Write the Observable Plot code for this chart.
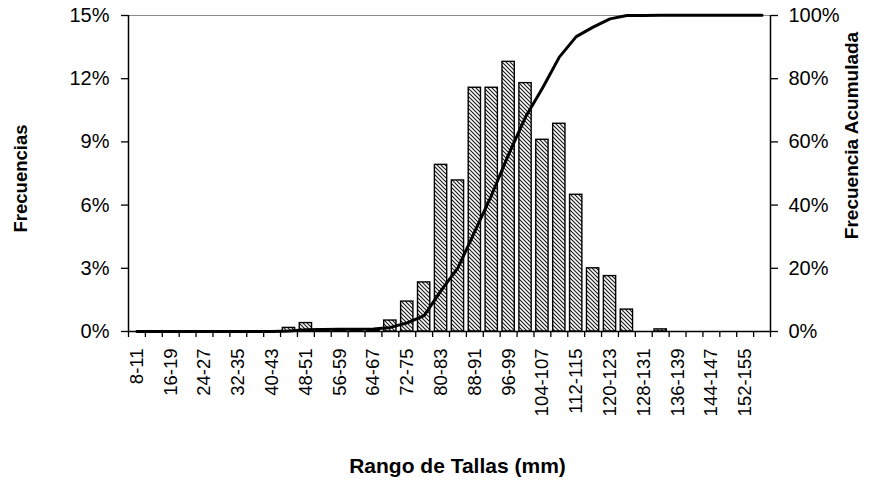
<!DOCTYPE html>
<html>
<head>
<meta charset="utf-8">
<script src="https://cdn.jsdelivr.net/npm/d3@7"></script>
<script src="https://cdn.jsdelivr.net/npm/@observablehq/plot@0.6"></script>
<style>
  body { margin: 0; background: #fff; }
  #chart svg { font-family: "Liberation Sans", Arial, sans-serif; }
</style>
</head>
<body>
<div id="chart"></div>
<script>
// Size classes (mm)
const categories = [
  "8-11","12-15","16-19","20-23","24-27","28-31","32-35","36-39","40-43","44-47",
  "48-51","52-55","56-59","60-63","64-67","68-71","72-75","76-79","80-83","84-87",
  "88-91","92-95","96-99","100-103","104-107","108-111","112-115","116-119","120-123","124-127",
  "128-131","132-135","136-139","140-143","144-147","148-151","152-155","156-159"
];
// Frequency per class (%)
const frequencies = [
  0, 0, 0, 0, 0, 0, 0, 0, 0, 0.17,
  0.4, 0.08, 0.05, 0.03, 0.05, 0.52, 1.42, 2.33, 7.91, 7.17,
  11.57, 11.57, 12.8, 11.79, 9.1, 9.86, 6.49, 3.0, 2.63, 1.04,
  0, 0.1, 0, 0, 0, 0, 0, 0
];
// Axis tick labels
const shownLabels = ["8-11","16-19","24-27","32-35","40-43","48-51","56-59","64-67","72-75",
  "80-83","88-91","96-99","104-107","112-115","120-123","128-131","136-139","144-147","152-155"];
const leftTicks = [0, 3, 6, 9, 12, 15];
const rightTicks = [0, 20, 40, 60, 80, 100];

const cumulative = d3.cumsum(frequencies);
const data = categories.map((c, i) => ({i, cat: c, freq: frequencies[i], cum: cumulative[i]}));
const k = 15 / 100; // right-axis (0–100%) mapped onto left-axis (0–15%)
const boundaries = categories.map((c, i) => i).concat([categories.length]);

const chart = Plot.plot({
  width: 872,
  height: 485,
  marginLeft: 128,
  marginRight: 102,
  marginTop: 15,
  marginBottom: 154,
  x: {domain: [0, categories.length], axis: null},
  y: {domain: [0, 15], axis: null},
  style: {background: "#fff", color: "#000", fontFamily: "'Liberation Sans', Arial, sans-serif"},
  marks: [
    Plot.ruleY([15], {stroke: "#8c8c8c", strokeWidth: 1}),
    Plot.rectY(data, {
      x1: "i", x2: d => d.i + 1, y: "freq",
      insetLeft: 2.3, insetRight: 2.3,
      fill: "url(#hatch)", stroke: "#000", strokeWidth: 1.4
    }),
    Plot.line(data, {x: d => d.i + 0.5, y: d => d.cum * k, stroke: "#000", strokeWidth: 3, strokeLinejoin: "round"}),
    Plot.ruleY([0], {stroke: "#000", strokeWidth: 1.5}),
    Plot.ruleX([0], {stroke: "#000", strokeWidth: 1.5}),
    Plot.ruleX([categories.length], {stroke: "#000", strokeWidth: 1.5}),
    Plot.axisY({anchor: "left", ticks: leftTicks, tickFormat: d => d + "%", tickSize: 7, tickPadding: 12, label: null, fontSize: 20, strokeWidth: 1.3}),
    Plot.axisY({anchor: "right", ticks: rightTicks.map(v => v * k), tickFormat: d => Math.round(d / k) + "%", tickSize: 7, tickPadding: 11, label: null, fontSize: 20, strokeWidth: 1.3}),
    Plot.axisX({anchor: "bottom", ticks: boundaries, tickFormat: () => "", tickSize: 6, label: null, strokeWidth: 1.3}),
    Plot.axisX({anchor: "bottom", ticks: shownLabels.map(l => categories.indexOf(l) + 0.5),
      tickFormat: d => categories[Math.floor(d)], tickSize: 0, tickPadding: 17, tickRotate: -90, label: null, fontSize: 18.5}),
    Plot.text(["Frecuencias"], {frameAnchor: "left", textAnchor: "middle", dx: -107, dy: 5, rotate: -90, fontSize: 18.5, fontWeight: "bold", fill: "#000"}),
    Plot.text(["Frecuencia Acumulada"], {frameAnchor: "right", textAnchor: "middle", dx: 81, dy: -38, rotate: -90, fontSize: 19, fontWeight: "bold", fill: "#000"}),
    Plot.text(["Rango de Tallas (mm)"], {frameAnchor: "bottom", textAnchor: "middle", dx: 8, dy: 141, fontSize: 21, fontWeight: "bold", fill: "#000"})
  ]
});

const svg = d3.select(chart);
const pat = svg.insert("defs", ":first-child")
  .append("pattern")
  .attr("id", "hatch")
  .attr("patternUnits", "userSpaceOnUse")
  .attr("width", 4).attr("height", 4);
pat.append("rect").attr("width", 4).attr("height", 4).attr("fill", "#fff");
pat.append("path").attr("d", "M-1,-1L5,5M-1,3L1,5M3,-1L5,1").attr("stroke", "#1a1a1a").attr("stroke-width", 1.15);

document.getElementById("chart").appendChild(chart);
</script>
</body>
</html>
